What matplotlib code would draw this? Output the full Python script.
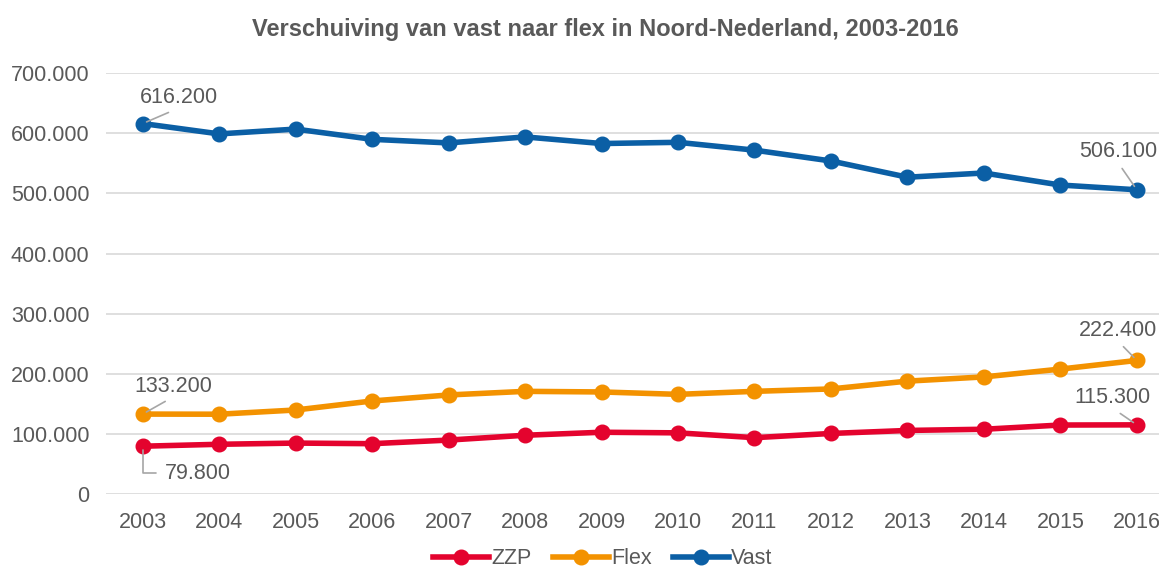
import matplotlib.pyplot as plt
from matplotlib.ticker import FuncFormatter

# data
years = ['2003', '2004', '2005', '2006', '2007', '2008', '2009',
         '2010', '2011', '2012', '2013', '2014', '2015', '2016']
zzp = [79800, 83000, 85000, 84000, 90000, 98000, 103000,
       102000, 94000, 101000, 106000, 108000, 115000, 115300]
flex = [133200, 133000, 140000, 155000, 165000, 171000, 170000,
        166000, 171000, 175000, 188000, 195000, 208000, 222400]
vast = [616200, 599000, 607000, 590000, 584000, 594000, 583000,
        585000, 572000, 554000, 527000, 534000, 514000, 506100]

plt.rcParams['font.family'] = ['Liberation Sans', 'DejaVu Sans']
txt = '#595959'
fs = 15.5

fig = plt.figure(figsize=(11.59, 5.76), dpi=100)
ax = fig.add_axes([0.0915, 0.142, 0.9085, 0.731])

x = range(len(years))
ax.plot(x, zzp, color='#E4032E', lw=4, marker='o', ms=10.5, label='ZZP')
ax.plot(x, flex, color='#F39200', lw=4, marker='o', ms=10.5, label='Flex')
ax.plot(x, vast, color='#0B5FA5', lw=4, marker='o', ms=10.5, label='Vast')

ax.set_ylim(0, 700000)
ax.set_xlim(-0.48, 13.29)
ax.set_yticks(range(0, 700001, 100000))
ax.yaxis.set_major_formatter(FuncFormatter(lambda v, p: f"{int(v):,}".replace(',', '.')))
ax.set_xticks(list(x))
ax.set_xticklabels(years)
ax.tick_params(length=0, labelsize=fs, colors=txt)
ax.tick_params(axis='x', pad=13)
ax.tick_params(axis='y', pad=12)
ax.grid(axis='y', color='#D9D9D9', lw=1.2)
ax.set_axisbelow(True)
for s in ax.spines.values():
    s.set_visible(False)

def fmt(v):
    return f"{v:,}".replace(',', '.')

ap = dict(arrowstyle='-', color='#A6A6A6', lw=1.2, shrinkA=3, shrinkB=3, relpos=(0.5, 0))
labels = [
    (0, vast[0], (36, 26)),
    (13, vast[13], (-19, 38)),
    (0, flex[0], (31, 28)),
    (13, flex[13], (-19, 30)),
    (13, zzp[13], (-24, 27)),
]
for i, v, off in labels:
    ax.annotate(fmt(v), (i, v), xytext=off, textcoords='offset pixels',
                ha='center', va='center', fontsize=fs, color=txt, arrowprops=ap)
ax.annotate(fmt(zzp[0]), (0, zzp[0]), xytext=(55, -27), textcoords='offset pixels',
            ha='center', va='center', fontsize=fs, color=txt,
            arrowprops=dict(arrowstyle='-', color='#A6A6A6', lw=1.2, shrinkA=4, shrinkB=3,
                            relpos=(0, 0.5),
                            connectionstyle='angle,angleA=0,angleB=90,rad=0'))

fig.suptitle('Verschuiving van vast naar flex in Noord-Nederland, 2003-2016',
             x=0.522, y=0.968, fontsize=17, fontweight='bold', color=txt)

fig.legend(loc='lower center', ncol=3, frameon=False, bbox_to_anchor=(0.52, -0.022),
           fontsize=fs, labelcolor=txt, handlelength=2.6, handletextpad=0.1,
           columnspacing=1.0)

fig.savefig('out.png', dpi=100)
